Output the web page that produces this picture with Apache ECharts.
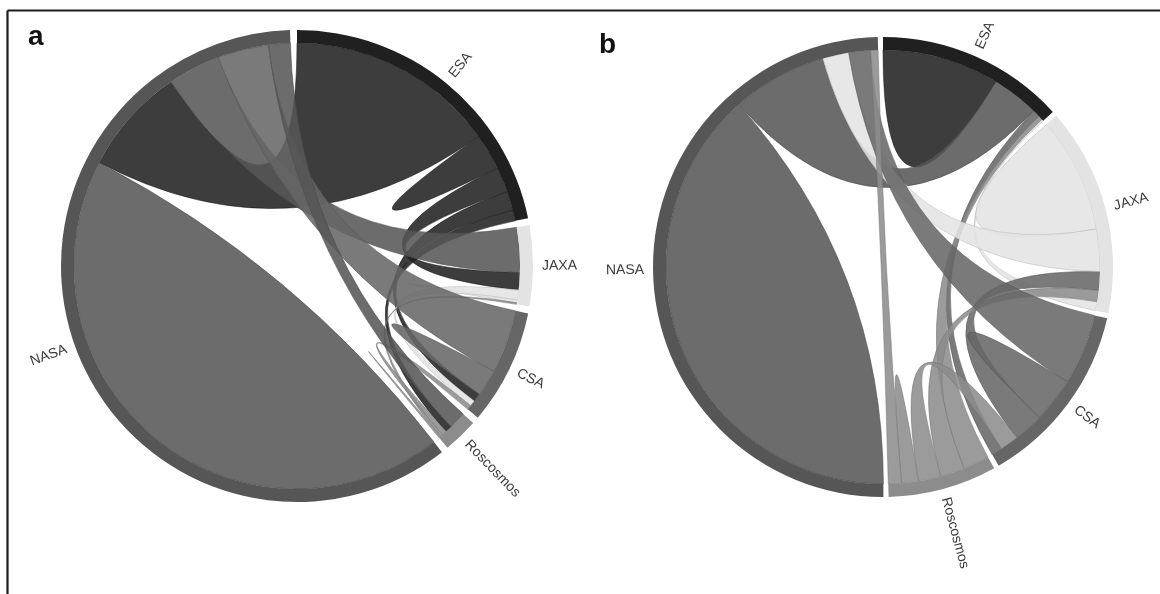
<!DOCTYPE html>
<html>
<head>
<meta charset="utf-8">
<script src="https://cdn.jsdelivr.net/npm/echarts@6/dist/echarts.min.js"></script>
<style>
  html, body { margin: 0; padding: 0; background: #ffffff; }
  #chart { width: 1160px; height: 594px; }
</style>
</head>
<body>
<div id="chart"></div>
<script>
// Agencies, in the order their sectors run clockwise from 12 o'clock
const agencies = ['ESA', 'JAXA', 'CSA', 'Roscosmos', 'NASA'];
const agencyColors = ['#202020', '#e3e3e3', '#666666', '#8c8c8c', '#565656'];

// Panel a: each row lists one agency's flows to [ESA, JAXA, CSA, Roscosmos, NASA]
const esaA       = [9.5, 6.5, 5.0, 2.8, 54.5];
const jaxaA      = [4.5, 0.8, 2.5, 0.4, 11.7];
const csaA       = [2.2, 1.5, 7.0, 1.2, 16.5];
const roscosmosA = [1.8, 0.7, 1.2, 0.5, 4.5];
const nasaA      = [28.0, 13.7, 13.3, 5.7, 155.5];

// Panel b: same layout of rows and columns
const esaB       = [31.4, 0.5, 2.0, 1.1, 12.6];
const jaxaB      = [2.4, 31.0, 5.0, 3.0, 11.3];
const csaB       = [2.9, 8.0, 12.0, 5.0, 19.0];
const roscosmosB = [7.0, 6.5, 6.0, 4.5, 3.5];
const nasaB      = [25.5, 7.0, 5.8, 2.0, 138.5];

const panelLetters = ['a', 'b'];

const matrixA = [esaA, jaxaA, csaA, roscosmosA, nasaA];
const matrixB = [esaB, jaxaB, csaB, roscosmosB, nasaB];

const DEG = Math.PI / 180;

// Chord layout: groups sized by row sums, subgroups sorted descending within each group
function chordLayout(matrix, padDeg) {
  const n = matrix.length;
  const pad = padDeg * DEG;
  const sums = matrix.map(r => r.reduce((s, v) => s + v, 0));
  const total = sums.reduce((s, v) => s + v, 0);
  const k = (2 * Math.PI - pad * n) / total;
  const groups = [];
  const sub = [];
  let x = 0;
  for (let i = 0; i < n; i++) {
    const order = matrix[i].map((v, j) => j).sort((p, q) => matrix[i][q] - matrix[i][p]);
    const x0 = x;
    sub[i] = [];
    for (const j of order) {
      const v = matrix[i][j];
      const a0 = x;
      x += v * k;
      sub[i][j] = { index: i, subindex: j, startAngle: a0, endAngle: x, value: v };
    }
    groups.push({ index: i, startAngle: x0, endAngle: x, value: sums[i] });
    x += pad;
  }
  const chords = [];
  for (let i = 0; i < n; i++) {
    for (let j = i; j < n; j++) {
      const s = sub[j][i], t = sub[i][j];
      if (s.value || t.value) {
        chords.push(s.value < t.value ? { source: t, target: s } : { source: s, target: t });
      }
    }
  }
  return { groups, chords };
}

function pt(cx, cy, r, a) {
  return [cx + r * Math.sin(a), cy - r * Math.cos(a)];
}
function arcTo(cx, cy, r, a0, a1, sweep) {
  const p = pt(cx, cy, r, a1);
  const large = Math.abs(a1 - a0) > Math.PI ? 1 : 0;
  return ' A ' + r + ' ' + r + ' 0 ' + large + ' ' + sweep + ' ' + p[0] + ' ' + p[1];
}
function ribbonPath(cx, cy, r, c) {
  const s = c.source, t = c.target;
  const s0 = pt(cx, cy, r, s.startAngle);
  let d = 'M ' + s0[0] + ' ' + s0[1] + arcTo(cx, cy, r, s.startAngle, s.endAngle, 1);
  if (s.startAngle !== t.startAngle || s.endAngle !== t.endAngle) {
    const t0 = pt(cx, cy, r, t.startAngle);
    d += ' Q ' + cx + ' ' + cy + ' ' + t0[0] + ' ' + t0[1];
    d += arcTo(cx, cy, r, t.startAngle, t.endAngle, 1);
  }
  d += ' Q ' + cx + ' ' + cy + ' ' + s0[0] + ' ' + s0[1] + ' Z';
  return d;
}
function ringPath(cx, cy, r0, r1, a0, a1) {
  const o0 = pt(cx, cy, r1, a0);
  const i1 = pt(cx, cy, r0, a1);
  return 'M ' + o0[0] + ' ' + o0[1] + arcTo(cx, cy, r1, a0, a1, 1) +
    ' L ' + i1[0] + ' ' + i1[1] + arcTo(cx, cy, r0, a1, a0, 0) + ' Z';
}
function shade(hex, f) {
  const v = parseInt(hex.slice(1, 3), 16);
  const c = Math.round(v * f).toString(16).padStart(2, '0');
  return '#' + c + c + c;
}

const panels = [
  { matrix: matrixA, cx: 297, cy: 266, outer: 236, inner: 223, pad: 1.7 },
  { matrix: matrixB, cx: 883, cy: 267, outer: 230, inner: 217, pad: 1.3 }
];

function buildSeries(panel) {
  const lay = chordLayout(panel.matrix, panel.pad);
  const items = [];
  lay.chords.forEach(c => items.push({ kind: 'ribbon', c }));
  lay.groups.forEach(g => items.push({ kind: 'arc', g }));
  lay.groups.forEach(g => items.push({ kind: 'label', g }));
  const { cx, cy, outer, inner } = panel;
  return {
    type: 'custom',
    coordinateSystem: 'none',
    silent: true,
    animation: false,
    data: items.map((it, i) => [i]),
    renderItem: function (params) {
      const it = items[params.dataIndex];
      if (it.kind === 'ribbon') {
        const col = agencyColors[it.c.source.index];
        return {
          type: 'path',
          shape: { pathData: ribbonPath(cx, cy, inner, it.c) },
          style: { fill: col, stroke: shade(col, 0.82), lineWidth: 0.6, opacity: 0.87 }
        };
      }
      if (it.kind === 'arc') {
        return {
          type: 'path',
          shape: { pathData: ringPath(cx, cy, inner, outer, it.g.startAngle, it.g.endAngle) },
          style: { fill: agencyColors[it.g.index] }
        };
      }
      const mid = (it.g.startAngle + it.g.endAngle) / 2;
      const p = pt(cx, cy, outer + 9, mid);
      const midDeg = mid / DEG;
      const rightSide = midDeg < 180;
      return {
        type: 'text',
        x: p[0],
        y: p[1],
        rotation: (rightSide ? 90 - midDeg : 270 - midDeg) * DEG,
        style: {
          text: agencies[it.g.index],
          fill: '#3a3a3a',
          font: '14px "Liberation Sans", Arial, sans-serif',
          align: rightSide ? 'left' : 'right',
          verticalAlign: 'middle'
        }
      };
    }
  };
}

const chart = echarts.init(document.getElementById('chart'), null, { renderer: 'canvas' });
chart.setOption({
  backgroundColor: '#ffffff',
  animation: false,
  graphic: [
    { type: 'line', shape: { x1: 7.5, y1: 10.5, x2: 1160, y2: 10.5 }, style: { stroke: '#1c1c1c', lineWidth: 2.2 } },
    { type: 'line', shape: { x1: 7.5, y1: 10.5, x2: 7.5, y2: 594 }, style: { stroke: '#1c1c1c', lineWidth: 2.2 } },
    { type: 'text', x: 28, y: 37, style: { text: panelLetters[0], font: 'bold 28px "Liberation Sans", Arial, sans-serif', fill: '#111111', verticalAlign: 'middle' } },
    { type: 'text', x: 599, y: 45.5, style: { text: panelLetters[1], font: 'bold 28px "Liberation Sans", Arial, sans-serif', fill: '#111111', verticalAlign: 'middle' } }
  ],
  series: panels.map(buildSeries)
});
</script>
</body>
</html>
